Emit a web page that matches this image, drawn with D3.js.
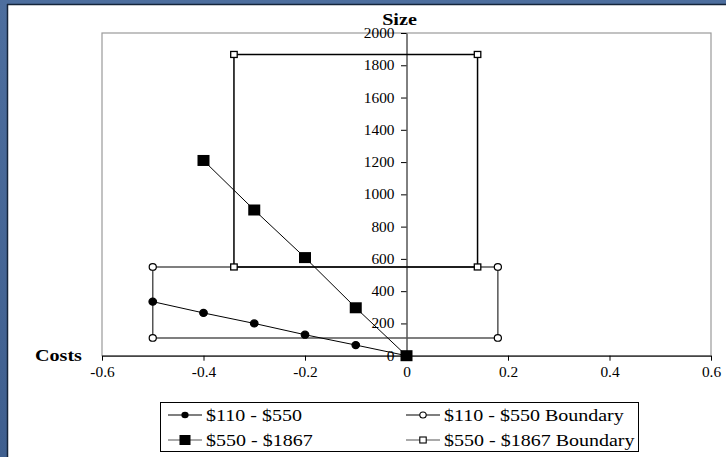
<!DOCTYPE html>
<html>
<head>
<meta charset="utf-8">
<script src="https://cdn.jsdelivr.net/npm/d3@7"></script>
<style>
  html, body { margin: 0; padding: 0; background: #4a6b9b; }
  svg { display: block; }
  text { font-family: "Liberation Serif", "Times New Roman", serif; }
</style>
</head>
<body>
<svg id="chart" width="726" height="457"></svg>
<script>
// Cost / size series
const costTicks = [-0.6, -0.4, -0.2, 0, 0.2, 0.4, 0.6];
const costTickLabels = ["-0.6", "-0.4", "-0.2", "0", "0.2", "0.4", "0.6"];
const sizeTicks = [0, 200, 400, 600, 800, 1000, 1200, 1400, 1600, 1800, 2000];

const lowCost = [-0.5, -0.4, -0.3, -0.2, -0.1, 0];
const lowSize = [335, 265, 200, 130, 66, 0];

const lowBoundCost = [-0.5, 0.18, 0.18, -0.5, -0.5];
const lowBoundSize = [550, 550, 110, 110, 550];

const highCost = [-0.4, -0.3, -0.2, -0.1, 0];
const highSize = [1210, 903, 608, 297, 0];

const highBoundCost = [-0.34, 0.14, 0.14, -0.34, -0.34];
const highBoundSize = [1867, 1867, 550, 550, 1867];

const seriesNames = ["$110 - $550", "$110 - $550 Boundary", "$550 - $1867", "$550 - $1867 Boundary"];

const zip = (xs, ys) => xs.map((x, i) => ({ x, y: ys[i] }));

const svg = d3.select("#chart");
const W = 726, H = 457;
const SX = 1.22;      // titles and legend glyphs are drawn slightly wide
const SX_TICK = 1.1;  // tick labels a little less so

// Backdrop: blue frame with white panel
const defs = svg.append("defs");
const grad = defs.append("linearGradient").attr("id", "frame")
  .attr("x1", 0).attr("y1", 0).attr("x2", 0).attr("y2", 1);
grad.append("stop").attr("offset", 0).attr("stop-color", "#4d6e9e");
grad.append("stop").attr("offset", 1).attr("stop-color", "#3f5f8f");
svg.append("rect").attr("width", W).attr("height", H).attr("fill", "url(#frame)");
svg.append("rect").attr("x", 8).attr("y", 5).attr("width", W).attr("height", H)
  .attr("fill", "#fff");
svg.append("line").attr("x1", 7).attr("x2", W).attr("y1", 4.5).attr("y2", 4.5)
  .attr("stroke", "#15243a").attr("stroke-width", 1.5);
svg.append("line").attr("x1", 7.5).attr("x2", 7.5).attr("y1", 4).attr("y2", H)
  .attr("stroke", "#15243a").attr("stroke-width", 1.5);

// Plot area
const plot = { left: 102, right: 711, top: 33, bottom: 355.7 };
const x = d3.scaleLinear().domain([-0.6, 0.6]).range([plot.left, plot.right]);
const y = d3.scaleLinear().domain([0, 2000]).range([plot.bottom, plot.top]);

svg.append("rect")
  .attr("x", plot.left).attr("y", plot.top)
  .attr("width", plot.right - plot.left).attr("height", plot.bottom - plot.top)
  .attr("fill", "none").attr("stroke", "#9a9a9a").attr("stroke-width", 1.2);

// Axes crossing at the origin
const xAxis = d3.axisBottom(x).tickValues(costTicks)
  .tickFormat((d, i) => costTickLabels[i]).tickSize(5).tickSizeOuter(0);
const gx = svg.append("g").attr("transform", `translate(0,${y(0)})`).call(xAxis);
gx.select(".domain").attr("stroke", "#000");
gx.selectAll(".tick line").attr("stroke", "#000");
gx.selectAll(".tick text").attr("font-size", 14).attr("fill", "#000")
  .attr("font-family", "Liberation Serif").attr("y", 21.5).attr("dy", 0)
  .attr("transform", `scale(${SX_TICK},1)`);

const yAxis = d3.axisLeft(y).tickValues(sizeTicks).tickFormat(d3.format("d"))
  .tickSize(5.5).tickSizeOuter(0);
const gy = svg.append("g").attr("transform", `translate(${x(0)},0)`).call(yAxis);
gy.select(".domain").attr("stroke", "#000");
gy.selectAll(".tick line").attr("stroke", "#000");
gy.selectAll(".tick text").attr("font-size", 14).attr("fill", "#000")
  .attr("font-family", "Liberation Serif").attr("x", -12 / SX_TICK)
  .attr("transform", `scale(${SX_TICK},1)`);

// Axis titles
const wideText = (px, py, size, str, anchor, bold) => svg.append("text")
  .attr("transform", `translate(${px},${py}) scale(${SX},1)`)
  .attr("text-anchor", anchor).attr("font-size", size)
  .attr("font-weight", bold ? "bold" : null).attr("fill", "#000").text(str);
wideText(399.5, 25, 16.5, "Size", "middle", true);
wideText(35, 361, 16.5, "Costs", "start", true);

const line = d3.line().x(d => x(d.x)).y(d => y(d.y));

// Boundary rectangles
svg.append("path").datum(zip(lowBoundCost, lowBoundSize))
  .attr("d", line).attr("fill", "none").attr("stroke", "#555").attr("stroke-width", 1.5);
svg.append("path").datum(zip(highBoundCost, highBoundSize))
  .attr("d", line).attr("fill", "none").attr("stroke", "#000").attr("stroke-width", 1.5);

// Series lines
svg.append("path").datum(zip(lowCost, lowSize))
  .attr("d", line).attr("fill", "none").attr("stroke", "#000").attr("stroke-width", 1);
svg.append("path").datum(zip(highCost, highSize))
  .attr("d", line).attr("fill", "none").attr("stroke", "#000").attr("stroke-width", 1);

// Markers
const circleMarks = (g, pts, r, fill) => g.selectAll(null).data(pts).join("ellipse")
  .attr("cx", d => x(d.x)).attr("cy", d => y(d.y)).attr("rx", r * 1.08).attr("ry", r)
  .attr("fill", fill).attr("stroke", "#000").attr("stroke-width", 1.2);
const squareMarks = (g, pts, w, h, fill, sw) => g.selectAll(null).data(pts).join("rect")
  .attr("x", d => x(d.x) - w / 2).attr("y", d => y(d.y) - h / 2)
  .attr("width", w).attr("height", h)
  .attr("fill", fill).attr("stroke", "#000").attr("stroke-width", sw);

const marks = svg.append("g");
circleMarks(marks, zip(lowCost, lowSize), 3.5, "#000");
circleMarks(marks, zip(lowBoundCost, lowBoundSize).slice(0, 4), 3.3, "#fff");
squareMarks(marks, zip(highCost, highSize), 12, 11, "#000", 0);
squareMarks(marks, zip(highBoundCost, highBoundSize).slice(0, 4), 6.5, 6, "#fff", 1.3);

// Legend
const lg = svg.append("g");
lg.append("rect").attr("x", 160.5).attr("y", 402.5).attr("width", 478).attr("height", 49)
  .attr("fill", "#fff").attr("stroke", "#000").attr("stroke-width", 1);
const legendItems = [
  { name: seriesNames[0], col: 0, row: 0, kind: "dot" },
  { name: seriesNames[1], col: 1, row: 0, kind: "ring" },
  { name: seriesNames[2], col: 0, row: 1, kind: "square" },
  { name: seriesNames[3], col: 1, row: 1, kind: "box" }
];
const colX = [168, 406], rowY = [415, 440];
legendItems.forEach(it => {
  const x0 = colX[it.col], yy = rowY[it.row];
  const g = lg.append("g");
  g.append("line").attr("x1", x0).attr("x2", x0 + 34).attr("y1", yy).attr("y2", yy)
    .attr("stroke", it.row === 0 ? "#000" : "#555").attr("stroke-width", 1.2);
  const cx = x0 + 17;
  if (it.kind === "dot") g.append("ellipse").attr("cx", cx).attr("cy", yy).attr("rx", 3.6).attr("ry", 3.3).attr("fill", "#000");
  if (it.kind === "ring") g.append("ellipse").attr("cx", cx).attr("cy", yy).attr("rx", 3.2).attr("ry", 3)
    .attr("fill", "#fff").attr("stroke", "#000").attr("stroke-width", 1.1);
  if (it.kind === "square") g.append("rect").attr("x", cx - 5.5).attr("y", yy - 5)
    .attr("width", 11).attr("height", 10).attr("fill", "#000");
  if (it.kind === "box") g.append("rect").attr("x", cx - 3.2).attr("y", yy - 3)
    .attr("width", 6.4).attr("height", 6).attr("fill", "#fff").attr("stroke", "#000").attr("stroke-width", 1.1);
  g.append("text").attr("transform", `translate(${x0 + 38},${yy}) scale(${SX},1)`)
    .attr("dy", "0.35em").attr("font-size", 16.4).attr("fill", "#000").text(it.name);
});
</script>
</body>
</html>
